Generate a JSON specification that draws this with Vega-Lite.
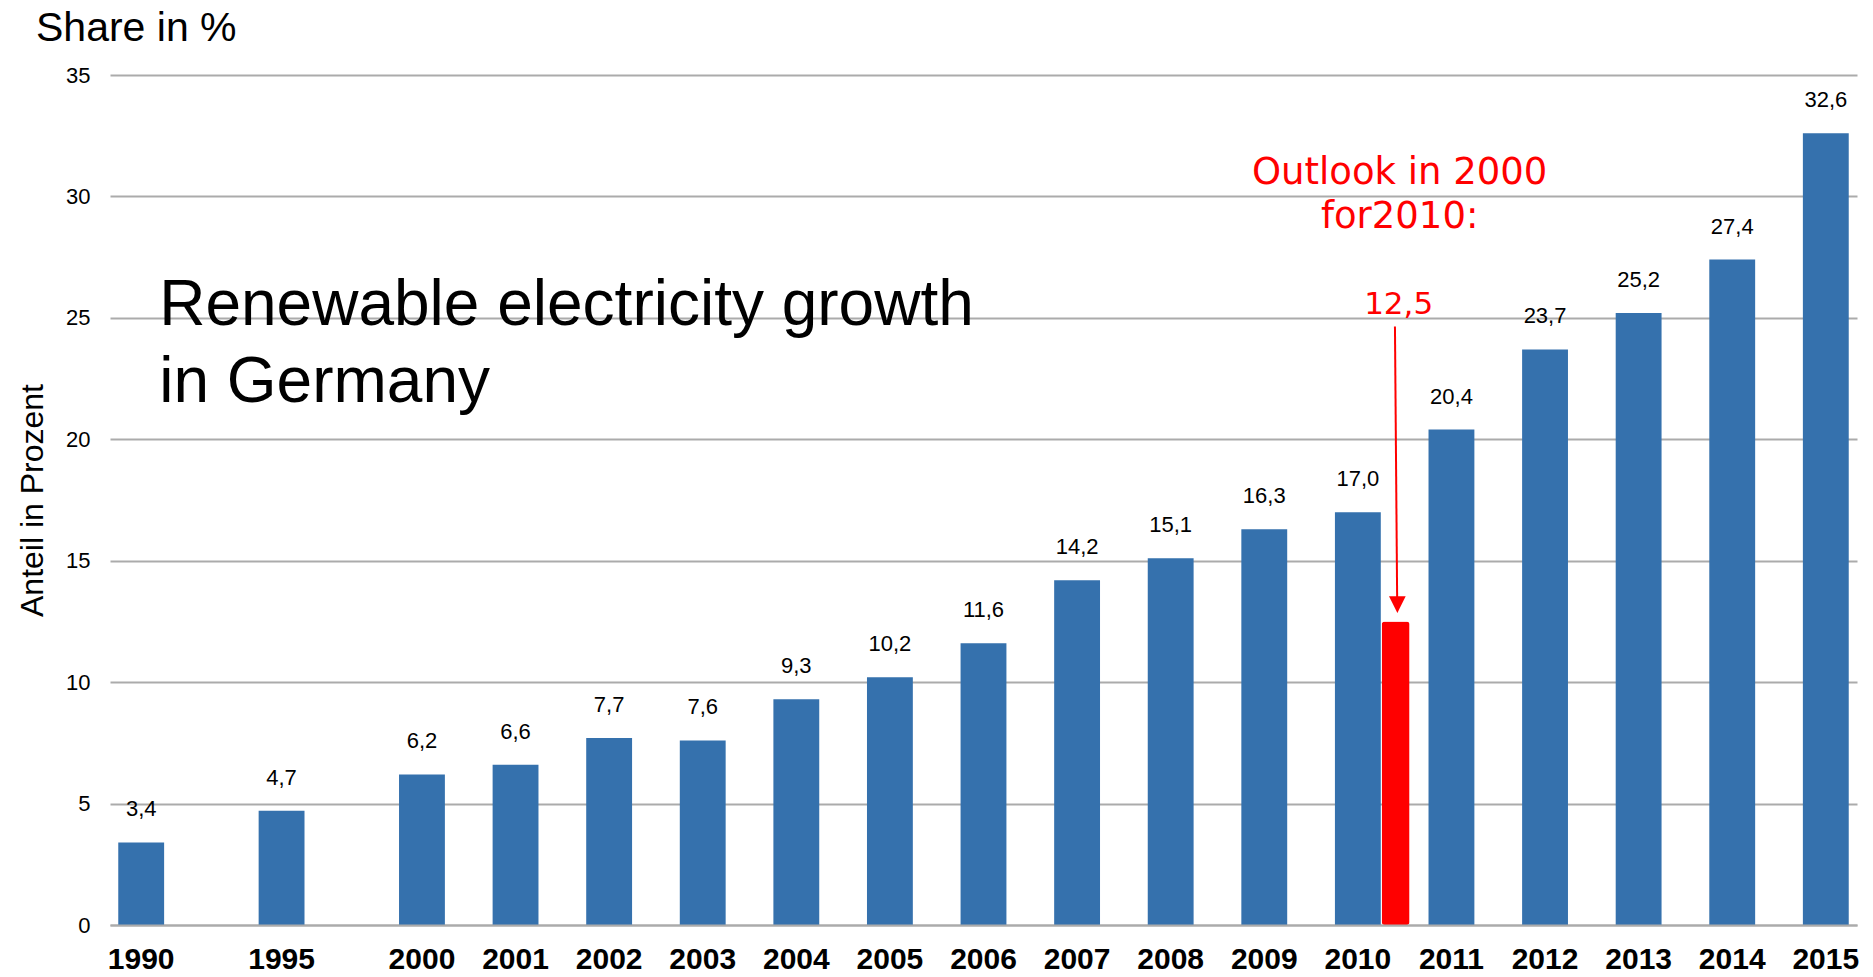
{
  "$schema": "https://vega.github.io/schema/vega-lite/v6.json",
  "width": 1747,
  "height": 850,
  "autosize": {"type": "none"},
  "padding": {"left": 110, "top": 75, "right": 16, "bottom": 52},
  "background": "white",
  "title": {
    "text": "Share in %",
    "anchor": "start",
    "frame": "group",
    "dx": -74,
    "offset": -18,
    "baseline": "alphabetic",
    "font": "Liberation Sans",
    "fontSize": 41,
    "fontWeight": "normal",
    "color": "black"
  },
  "config": {
    "view": {"stroke": null},
    "locale": {"number": {"decimal": ",", "thousands": ".", "grouping": [3], "currency": ["", " €"]}}
  },
  "data": {
    "values": [
      {"year": "1990", "share": 3.4},
      {"year": "1995", "share": 4.7},
      {"year": "2000", "share": 6.2},
      {"year": "2001", "share": 6.6},
      {"year": "2002", "share": 7.7},
      {"year": "2003", "share": 7.6},
      {"year": "2004", "share": 9.3},
      {"year": "2005", "share": 10.2},
      {"year": "2006", "share": 11.6},
      {"year": "2007", "share": 14.2},
      {"year": "2008", "share": 15.1},
      {"year": "2009", "share": 16.3},
      {"year": "2010", "share": 17.0},
      {"year": "2011", "share": 20.4},
      {"year": "2012", "share": 23.7},
      {"year": "2013", "share": 25.2},
      {"year": "2014", "share": 27.4},
      {"year": "2015", "share": 32.6}
    ]
  },
  "encoding": {
    "x": {
      "field": "year",
      "type": "nominal",
      "sort": null,
      "scale": {
        "domain": ["1990", "g1", "g2", "1995", "g3", "g4", "2000", "g5", "2001", "g6", "2002", "g7", "2003", "g8", "2004", "g9", "2005", "g10", "2006", "g11", "2007", "g12", "2008", "g13", "2009", "g14", "2010", "outlook", "2011", "g15", "2012", "g16", "2013", "g17", "2014", "g18", "2015"],
        "paddingInner": 0.02,
        "paddingOuter": 0.1765
      },
      "axis": {
        "title": null,
        "labelAngle": 0,
        "labelExpr": "length(datum.label) == 4 ? datum.label : ''",
        "labelOverlap": false,
        "labelFont": "Liberation Sans",
        "labelFontSize": 30,
        "labelFontWeight": "bold",
        "labelColor": "black",
        "labelPadding": 19,
        "ticks": false,
        "tickSize": 0,
        "domain": true,
        "domainColor": "#ababab",
        "domainWidth": 2,
        "zindex": 1
      }
    }
  },
  "layer": [
    {
      "mark": {"type": "bar", "color": "#3571ad"},
      "encoding": {
        "y": {
          "field": "share",
          "type": "quantitative",
          "title": "Anteil in Prozent",
          "scale": {"domain": [0, 35], "nice": false},
          "axis": {
            "titleFont": "Liberation Sans",
            "titleFontSize": 32,
            "titleFontWeight": "normal",
            "titleColor": "black",
            "titleX": -68,
            "titleY": 425,
            "titleBaseline": "alphabetic",
            "titleAlign": "center",
            "values": [0, 5, 10, 15, 20, 25, 30, 35],
            "labelFont": "Liberation Sans",
            "labelFontSize": 22,
            "labelColor": "black",
            "labelPadding": 20,
            "ticks": false,
            "tickSize": 0,
            "domain": false,
            "grid": true,
            "gridColor": "#ababab",
            "gridWidth": 2
          }
        }
      }
    },
    {
      "mark": {"type": "text", "baseline": "alphabetic", "dy": -26, "font": "Liberation Sans", "fontSize": 22, "color": "black"},
      "encoding": {
        "y": {"field": "share", "type": "quantitative", "title": "Anteil in Prozent"},
        "text": {"field": "share", "type": "quantitative", "format": ".1f"}
      }
    },
    {
      "data": {"values": [{"year": "1990", "note": "Renewable electricity growth\nin Germany"}]},
      "mark": {"type": "text", "align": "left", "baseline": "alphabetic", "dx": 18, "lineBreak": "\n", "lineHeight": 77, "font": "Liberation Sans", "fontSize": 64, "color": "black"},
      "encoding": {
        "y": {"datum": 24.7},
        "text": {"field": "note"}
      }
    },
    {
      "data": {"values": [{"year": "outlook", "share": 12.5, "note": "Outlook in 2000\nfor2010:"}]},
      "layer": [
        {
          "mark": {"type": "bar", "color": "#ff0000", "width": {"band": 0.61}, "xOffset": -9, "cornerRadius": 3},
          "encoding": {
            "y": {"field": "share", "type": "quantitative", "title": "Anteil in Prozent"}
          }
        },
        {
          "mark": {"type": "text", "baseline": "alphabetic", "dx": -6, "font": "DejaVu Sans", "fontSize": 31, "color": "#ff0000"},
          "encoding": {
            "y": {"datum": 25.16},
            "text": {"field": "share", "type": "quantitative", "format": ".1f"}
          }
        },
        {
          "mark": {"type": "text", "baseline": "alphabetic", "dx": -5, "lineBreak": "\n", "lineHeight": 44, "font": "DejaVu Sans", "fontSize": 37, "color": "#ff0000"},
          "encoding": {
            "y": {"datum": 30.5},
            "text": {"field": "note"}
          }
        },
        {
          "mark": {"type": "rule", "color": "#ff0000", "strokeWidth": 2, "xOffset": -9.7, "x2Offset": -7.5},
          "encoding": {
            "x2": {"field": "year"},
            "y": {"datum": 24.64},
            "y2": {"datum": 13.4}
          }
        },
        {
          "mark": {"type": "point", "shape": "M-1,-1L1,-1L0,1Z", "size": 278, "filled": true, "opacity": 1, "color": "#ff0000", "xOffset": -7.3},
          "encoding": {
            "y": {"datum": 13.19}
          }
        }
      ]
    }
  ]
}
